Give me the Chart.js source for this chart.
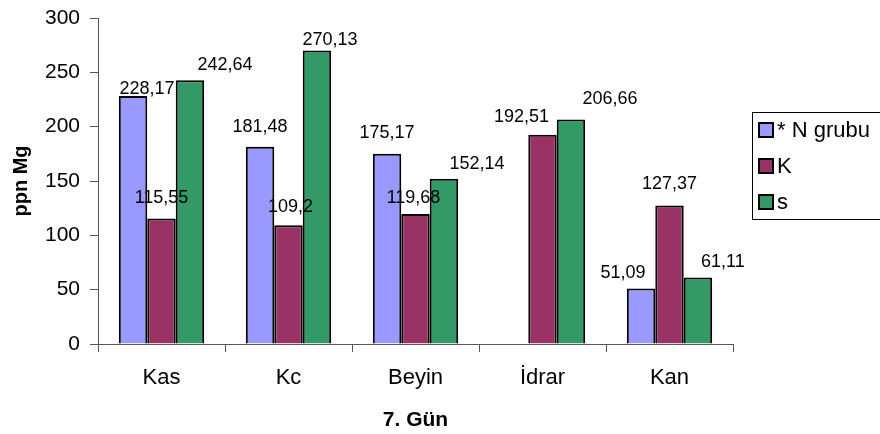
<!DOCTYPE html>
<html>
<head>
<meta charset="utf-8">
<script src="https://cdn.jsdelivr.net/npm/chart.js@4"></script>
<style>
  html, body { margin: 0; padding: 0; background: #fff; }
  canvas { display: block; }
</style>
</head>
<body>
<canvas id="chart" width="880" height="434"></canvas>
<script>
// chart data
var categories = ['Kas', 'Kc', 'Beyin', 'İdrar', 'Kan'];
var seriesNames = ['* N grubu', 'K', 's'];
var nGrubu = [228.17, 181.48, 175.17, null, 51.09];
var kValues = [115.55, 109.2, 119.68, 192.51, 127.37];
var sValues = [242.64, 270.13, 152.14, 206.66, 61.11];
var yTicks = [0, 50, 100, 150, 200, 250, 300];

// where each value label sits, relative to the top of its bar
var labelOffsets = [
    [[14, -7], [0, -20], [0, -21], null, [-18, -15]],
    [[0, -20], [2, -18], [-2, -16], [-21, -18], [0, -22]],
    [[35, -15], [13, -10], [33, -15], [39, -20], [25, -16]]
];

var colors = ['#9999FF', '#993366', '#339966'];
var axisColor = '#555555';
var fontFamily = '"Liberation Sans", Arial, sans-serif';

var fmt = function(v) {
    return String(v).replace('.', ',');
};

// value labels above bars
var valueLabels = {
    id: 'valueLabels',
    afterDatasetsDraw: function(chart) {
        var ctx = chart.ctx;
        ctx.save();
        ctx.font = '18px ' + fontFamily;
        ctx.fillStyle = '#000';
        ctx.textAlign = 'center';
        ctx.textBaseline = 'middle';
        chart.data.datasets.forEach(function(ds, d) {
            var meta = chart.getDatasetMeta(d);
            meta.data.forEach(function(bar, i) {
                var v = ds.data[i];
                if (v === null || v === undefined) return;
                var off = labelOffsets[d][i] || [0, -15];
                ctx.fillText(fmt(v), bar.x + off[0], bar.y + off[1]);
            });
        });
        ctx.restore();
    }
};

// boxed legend on the right, excel style
var boxLegend = {
    id: 'boxLegend',
    afterDraw: function(chart) {
        var ctx = chart.ctx;
        var left = 752, top = 112, bottom = 219;
        ctx.save();
        ctx.strokeStyle = '#000';
        ctx.lineWidth = 1;
        ctx.strokeRect(left + 0.5, top + 0.5, 200, bottom - top);
        ctx.font = '22px ' + fontFamily;
        ctx.textBaseline = 'middle';
        ctx.textAlign = 'left';
        seriesNames.forEach(function(name, i) {
            var cy = 130 + i * 36;
            ctx.fillStyle = colors[i];
            ctx.fillRect(759, cy - 7, 14, 14);
            ctx.strokeStyle = '#000';
            ctx.lineWidth = 2;
            ctx.strokeRect(759, cy - 7, 14, 14);
            ctx.fillStyle = '#000';
            ctx.fillText(name, 777, cy + 1);
        });
        ctx.restore();
    }
};

var datasets = [nGrubu, kValues, sValues].map(function(values, i) {
    return {
        label: seriesNames[i],
        data: values,
        backgroundColor: colors[i],
        borderColor: '#000',
        borderWidth: 2,
        borderSkipped: 'start',
        categoryPercentage: 0.672,
        barPercentage: 1
    };
});

var ctx = document.getElementById('chart').getContext('2d');
var myChart = new Chart(ctx, {
    type: 'bar',
    data: {
        labels: categories,
        datasets: datasets
    },
    options: {
        responsive: false,
        animation: false,
        layout: {
            padding: { top: 18, right: 147, bottom: 0, left: 0 }
        },
        plugins: {
            legend: { display: false },
            tooltip: { enabled: false }
        },
        scales: {
            x: {
                grid: {
                    offset: true,
                    drawOnChartArea: false,
                    drawTicks: true,
                    tickLength: 8,
                    color: axisColor
                },
                border: { color: axisColor, width: 1 },
                ticks: {
                    color: '#000',
                    padding: 13,
                    font: { family: fontFamily, size: 22 }
                },
                title: {
                    display: true,
                    text: '7. Gün',
                    color: '#000',
                    padding: { top: 0, bottom: 1 },
                    font: { family: fontFamily, size: 21, weight: 'bold' }
                },
                afterFit: function(scale) {
                    scale.height = 90;
                    scale.paddingLeft = 0;
                    scale.paddingRight = 0;
                }
            },
            y: {
                min: 0,
                max: 300,
                afterBuildTicks: function(scale) {
                    scale.ticks = yTicks.map(function(v) { return { value: v }; });
                },
                grid: {
                    drawOnChartArea: false,
                    drawTicks: true,
                    tickLength: 8,
                    color: axisColor
                },
                border: { color: axisColor, width: 1 },
                ticks: {
                    color: '#000',
                    padding: 10,
                    font: { family: fontFamily, size: 21 }
                },
                title: {
                    display: true,
                    text: 'ppn Mg',
                    color: '#000',
                    padding: { top: 9, bottom: 0 },
                    font: { family: fontFamily, size: 20, weight: 'bold' }
                },
                afterFit: function(scale) {
                    scale.width = 98;
                    scale.paddingTop = 0;
                    scale.paddingBottom = 0;
                }
            }
        }
    },
    plugins: [valueLabels, boxLegend]
});
</script>
</body>
</html>
